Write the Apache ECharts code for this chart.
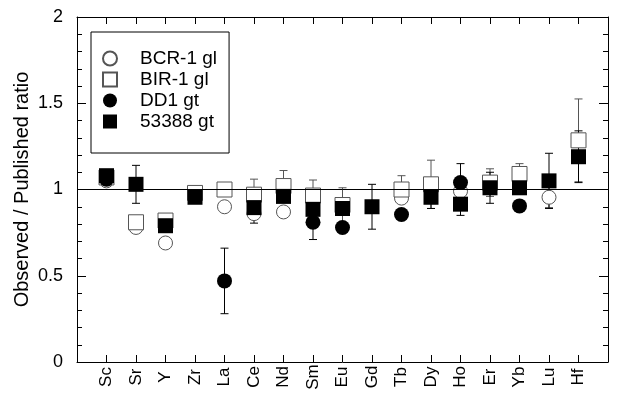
<!DOCTYPE html>
<html>
<head>
<meta charset="utf-8">
<script src="https://cdn.jsdelivr.net/npm/echarts@6/dist/echarts.min.js"></script>
<style>
  html, body { margin: 0; background: #fff; }
  #chart { width: 617px; height: 399px; }
</style>
</head>
<body>
<div id="chart"></div>
<script>
const elements = ["Sc", "Sr", "Y", "Zr", "La", "Ce", "Nd", "Sm", "Eu", "Gd", "Tb", "Dy", "Ho", "Er", "Yb", "Lu", "Hf"]
const yTicks = [0, 0.5, 1, 1.5, 2]

// observed / published ratio, one value per element (null = not shown)
//              Sc    Sr    Y     Zr    La    Ce    Nd    Sm     Eu    Gd    Tb     Dy     Ho     Er    Yb     Lu     Hf
const bcr1   = [1.05, 0.78, 0.69, null, 0.90, 0.86, 0.87, null,  null, null, 0.95,  null,  0.99,  null, null,  0.955, null]
const bir1   = [1.07, 0.81, 0.82, 0.98, 1.00, 0.97, 1.02, 0.965, 0.91, null, 1.00,  1.03,  null,  1.04, 1.09,  null,  1.285]
const dd1    = [1.06, null, null, null, 0.47, null, null, 0.81,  0.78, null, 0.855, null,  1.04,  null, 0.905, null,  null]
const s53388 = [1.08, 1.03, 0.79, 0.955, null, 0.895, 0.96, 0.885, 0.89, 0.90, null, 0.955, 0.915, 1.01, 1.01,  1.05,  1.19]

// error bar half widths
const errBcr1   = [0, 0, 0, 0, 0, 0, 0, 0, 0, 0, 0, 0, 0, 0, 0, 0.06, 0]
const errBir1   = [0, 0.03, 0.03, 0.03, 0.03, 0.09, 0.09, 0.09, 0.1, 0, 0.08, 0.14, 0, 0.08, 0.06, 0, 0.24]
const errDd1    = [0, 0, 0, 0, 0.19, 0, 0, 0.1, 0, 0, 0, 0, 0.11, 0, 0, 0, 0]
const err53388  = [0, 0.11, 0, 0, 0, 0.09, 0, 0, 0, 0.13, 0, 0.065, 0.065, 0.09, 0, 0.16, 0.15]

const FONT = "Liberation Sans"
const SQUARE = "path://M0,0H10V10H0Z"

const points = (vals) => vals.map((v, i) => [i, v]).filter((d) => d[1] != null)
const bars = (vals, errs) =>
  vals.map((v, i) => [i, v, errs[i]]).filter((d) => d[1] != null && d[2] > 0)

function errorBars(vals, errs, color) {
  return {
    type: "custom",
    silent: true,
    z: 1,
    data: bars(vals, errs),
    renderItem: (params, api) => {
      const x = api.value(0)
      const hi = api.coord([x, api.value(1) + api.value(2)])
      const lo = api.coord([x, api.value(1) - api.value(2)])
      const cap = 4
      const style = { stroke: color, lineWidth: 1 }
      return {
        type: "group",
        children: [
          { type: "line", shape: { x1: hi[0], y1: hi[1], x2: lo[0], y2: lo[1] }, style },
          { type: "line", shape: { x1: hi[0] - cap, y1: hi[1], x2: hi[0] + cap, y2: hi[1] }, style },
          { type: "line", shape: { x1: lo[0] - cap, y1: lo[1], x2: lo[0] + cap, y2: lo[1] }, style },
        ],
      }
    },
  }
}

const chart = echarts.init(document.getElementById("chart"))

const baseX = {
  type: "value",
  min: -1,
  max: 17,
  interval: 1,
  splitLine: { show: false },
  axisLine: { show: true, onZero: false, lineStyle: { color: "#000", width: 1 } },
  axisTick: { show: true, inside: true, length: 7, lineStyle: { color: "#000" } },
}
const baseY = {
  type: "value",
  min: 0,
  max: 2,
  interval: 0.5,
  splitLine: { show: false },
  axisLine: { show: true, onZero: false, lineStyle: { color: "#000", width: 1 } },
  axisTick: { show: true, inside: true, length: 9, lineStyle: { color: "#000" } },
  minorTick: { show: true, splitNumber: 5, length: 5, lineStyle: { color: "#000" } },
}

chart.setOption({
  animation: false,
  backgroundColor: "#fff",
  textStyle: { fontFamily: FONT },
  grid: { left: 77, right: 9, top: 17, bottom: 37 },
  legend: {
    orient: "vertical",
    left: 91,
    top: 32,
    padding: [16, 12, 21, 11],
    itemWidth: 50,
    itemHeight: 14,
    itemGap: 0,
    symbolKeepAspect: true,
    borderColor: "#000",
    borderWidth: 1,
    textStyle: { fontFamily: FONT, fontSize: 19, lineHeight: 21, color: "#000" },
    data: [
      { name: "BCR-1 gl", icon: "circle" },
      { name: "BIR-1 gl", icon: SQUARE },
      { name: "DD1 gt", icon: "circle" },
      { name: "53388 gt", icon: SQUARE },
    ],
  },
  xAxis: [
    {
      ...baseX,
      position: "bottom",
      axisLabel: {
        show: true,
        rotate: 90,
        align: "center",
        verticalAlign: "middle",
        margin: 15,
        fontFamily: FONT,
        fontSize: 17,
        color: "#000",
        formatter: (v) => elements[v] || "",
      },
    },
    { ...baseX, position: "top", axisLabel: { show: false } },
  ],
  yAxis: [
    {
      ...baseY,
      position: "left",
      name: "Observed / Published ratio",
      nameLocation: "middle",
      nameGap: 45,
      nameMoveOverlap: false,
      nameTextStyle: { fontFamily: FONT, fontSize: 20, color: "#000" },
      axisLabel: {
        show: true,
        margin: 14,
        fontFamily: FONT,
        fontSize: 18,
        color: "#000",
        customValues: yTicks,
        formatter: (v) => String(v),
      },
    },
    { ...baseY, position: "right", axisLabel: { show: false } },
  ],
  series: [
    errorBars(bcr1, errBcr1, "#555"),
    errorBars(bir1, errBir1, "#555"),
    errorBars(dd1, errDd1, "#000"),
    errorBars(s53388, err53388, "#000"),
    {
      name: "BCR-1 gl",
      type: "scatter",
      symbol: "circle",
      symbolSize: 14,
      z: 2,
      itemStyle: { color: "#fff", borderColor: "#555", borderWidth: 1, opacity: 1 },
      data: points(bcr1),
      markLine: {
        silent: true,
        symbol: "none",
        label: { show: false },
        lineStyle: { color: "#000", width: 1, type: "solid" },
        data: [{ yAxis: 1 }],
      },
    },
    {
      name: "BIR-1 gl",
      type: "scatter",
      symbol: "rect",
      symbolSize: 15,
      z: 3,
      itemStyle: { color: "#fff", borderColor: "#555", borderWidth: 1, opacity: 1 },
      data: points(bir1),
    },
    {
      name: "DD1 gt",
      type: "scatter",
      symbol: "circle",
      symbolSize: 15,
      z: 4,
      itemStyle: { color: "#000", opacity: 1 },
      data: points(dd1),
    },
    {
      name: "53388 gt",
      type: "scatter",
      symbol: "rect",
      symbolSize: 15,
      z: 5,
      itemStyle: { color: "#000", opacity: 1 },
      data: points(s53388),
    },
  ],
})
</script>
</body>
</html>
